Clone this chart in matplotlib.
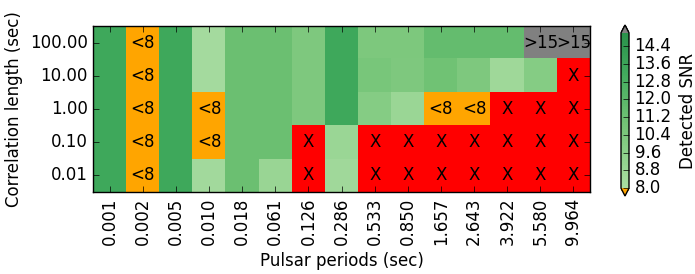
import numpy as np
import matplotlib
matplotlib.use('Agg')
import matplotlib.pyplot as plt
from matplotlib.colors import ListedColormap

plt.style.use('classic')

periods = ['0.001', '0.002', '0.005', '0.010', '0.018', '0.061', '0.126', '0.286',
           '0.533', '0.850', '1.657', '2.643', '3.922', '5.580', '9.964']
corr_lengths = ['100.00', '10.00', '1.00', '0.10', '0.01']

nan = np.nan
# detected SNR, rows top to bottom; <8 below range, >15 above range, nan = not detected
snr_100 = [13.4, 7.0, 13.4, 8.3, 11.2, 11.2, 10.3, 13.4, 10.4, 10.4, 11.5, 11.5, 11.5, 16.0, 16.0]
snr_10 = [13.4, 7.0, 13.4, 8.3, 11.2, 11.2, 10.3, 13.4, 10.6, 10.3, 11.0, 10.3, 8.6, 9.9, nan]
snr_1 = [13.4, 7.0, 13.4, 7.0, 11.2, 11.2, 10.3, 13.4, 9.9, 8.8, 7.0, 7.0, nan, nan, nan]
snr_01 = [13.4, 7.0, 13.4, 7.0, 11.2, 11.2, nan, 8.8, nan, nan, nan, nan, nan, nan, nan]
snr_001 = [13.4, 7.0, 13.4, 8.4, 11.2, 8.9, nan, 8.5, nan, nan, nan, nan, nan, nan, nan]

vmin, vmax = 8.0, 15.0

data = np.array([snr_100, snr_10, snr_1, snr_01, snr_001])
masked = np.ma.masked_invalid(data)

cmap = ListedColormap(plt.cm.Greens(np.linspace(0.35, 0.72, 256)))
cmap.set_under('orange')
cmap.set_over('gray')
cmap.set_bad('red')

fig = plt.figure(figsize=(6.95, 2.74), dpi=100)
ax = fig.add_axes([0.134, 0.299, 0.715, 0.606])
im = ax.imshow(masked, cmap=cmap, vmin=vmin, vmax=vmax, aspect='auto',
               interpolation='nearest')

for i in range(data.shape[0]):
    for j in range(data.shape[1]):
        v = data[i, j]
        if np.isnan(v):
            txt = 'X'
        elif v < vmin:
            txt = '<8'
        elif v > vmax:
            txt = '>15'
        else:
            continue
        ax.text(j, i, txt, ha='center', va='center', fontsize=12)

ax.set_xticks(np.arange(len(periods)))
ax.set_xticklabels(periods, rotation=90)
ax.set_yticks(np.arange(len(corr_lengths)))
ax.set_yticklabels(corr_lengths)
ax.set_xlim(-0.5, len(periods) - 0.5)
ax.set_ylim(len(corr_lengths) - 0.5, -0.5)
ax.set_xlabel('Pulsar periods (sec)')
ax.set_ylabel('Correlation length (sec)')

cax = fig.add_axes([621 / 695, 1 - 196 / 274, 8 / 695, 171 / 274])
cb = fig.colorbar(im, cax=cax, extend='both', ticks=np.arange(8.0, 14.5, 0.8),
                  format='%.1f')
cb.set_label('Detected SNR')

fig.savefig('out.png', dpi=100)
